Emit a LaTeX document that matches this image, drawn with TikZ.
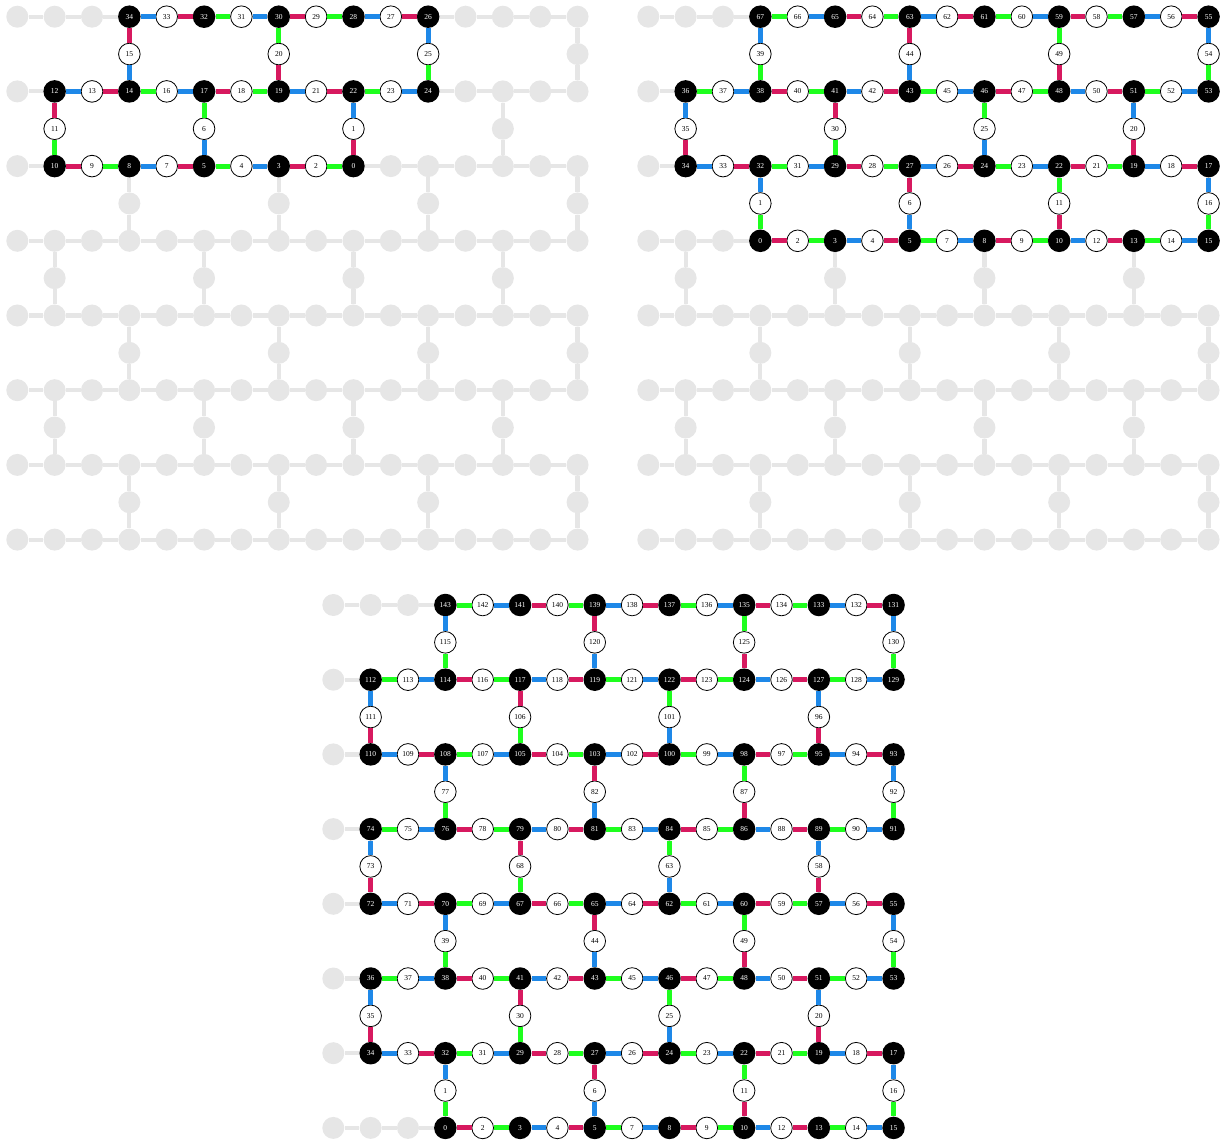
\documentclass[tikz,border=0pt]{standalone}
\usepackage{fontspec}
\setmainfont{Liberation Serif}
\usepackage{xcolor}
\usepackage{tikz}
\usetikzlibrary{calc}
\definecolor{ghostgray}{RGB}{230,230,230}
\definecolor{linkred}{RGB}{215,25,95}
\definecolor{linkblue}{RGB}{30,136,232}
\definecolor{linkgreen}{RGB}{30,255,30}
\tikzset{
  ghost/.style={circle,fill=ghostgray,minimum size=22pt,inner sep=0pt},
  ghostlink/.style={line width=4.2pt,ghostgray},
  ancilla/.style={circle,fill=black,text=white,minimum size=22.5pt,inner sep=0pt,font=\fontsize{7.5}{8}\selectfont},
  qubit/.style={circle,draw=black,line width=0.8pt,fill=white,minimum size=21.6pt,inner sep=0pt,font=\fontsize{7.5}{8}\selectfont},
  bluelink/.style={line width=5pt,linkblue},
  redlink/.style={line width=5pt,linkred},
  greenlink/.style={line width=5pt,linkgreen}
}
% grey heavy-hex: 8 rows of 16, bridges every fourth column
\newcommand{\ghostlattice}[1]{%
  \foreach \rw in {0,...,7}{
    \foreach \cl in {0,...,15}{
      \node[ghost] (#1-\rw-\cl) at (\cl,{2*\rw}) {};
    }
    \foreach \cl [remember=\cl as \pc (initially 0)] in {1,...,15}{
      \draw[ghostlink] (#1-\rw-\pc) -- (#1-\rw-\cl);
    }
  }
  \foreach \rw in {0,...,6}{
    \pgfmathtruncatemacro\nx{\rw+1}
    \foreach \k in {0,...,3}{
      \pgfmathtruncatemacro\cl{4*\k+3-2*mod(\rw,2)}
      \node[ghost] (#1-b\rw-\cl) at (\cl,{2*\rw+1}) {};
      \draw[ghostlink] (#1-\rw-\cl) -- (#1-b\rw-\cl);
      \draw[ghostlink] (#1-b\rw-\cl) -- (#1-\nx-\cl);
    }
  }
}
% one row of qubits: prefix, row, first column, colour offset, labels
\newcommand{\qrow}[5]{%
  \foreach \lab [count=\cl from #3, remember=\lab as \prev (initially none)] in {#5}{
    \ifodd\cl\relax \def\st{ancilla}\else \def\st{qubit}\fi
    \node[\st] (#1\lab) at (\cl,{2*#2}) {\lab};
    \ifnum\cl>#3\relax
      \pgfmathtruncatemacro\k{mod(\cl-#3-1+#4,3)}
      \ifcase\k \def\lk{bluelink}\or \def\lk{redlink}\or \def\lk{greenlink}\fi
      \draw[\lk] (#1\prev) -- (#1\lab);
    \fi
  }
}

\begin{document}
\begin{tikzpicture}[x=37.35pt,y=-37.35pt]
  \useasboundingbox (0pt,0pt) rectangle (1227pt,-1142pt);

  \begin{scope}[shift={(17.3pt,-16.7pt)}]
    \ghostlattice{tlg}
    \qrow{tl}{0}{3}{0}{34,33,32,31,30,29,28,27,26}
    \qrow{tl}{1}{1}{0}{12,13,14,16,17,18,19,21,22,23,24}
    \qrow{tl}{2}{1}{1}{10,9,8,7,5,4,3,2,0}
    \foreach \lab/\up/\dn/\su/\sd in {15/34/14/redlink/bluelink,20/30/19/greenlink/redlink,
      25/26/24/bluelink/greenlink,11/12/10/redlink/greenlink,6/17/5/greenlink/bluelink,1/22/0/bluelink/redlink}{
      \node[qubit] (tl\lab) at ($(tl\up)!0.5!(tl\dn)$) {\lab};
      \draw[\su] (tl\up) -- (tl\lab);
      \draw[\sd] (tl\lab) -- (tl\dn);
    }
  \end{scope}

  \begin{scope}[shift={(648.3pt,-16.7pt)}]
    \ghostlattice{trg}
    \qrow{tr}{0}{3}{2}{67,66,65,64,63,62,61,60,59,58,57,56,55}
    \qrow{tr}{1}{1}{2}{36,37,38,40,41,42,43,45,46,47,48,50,51,52,53}
    \qrow{tr}{2}{1}{0}{34,33,32,31,29,28,27,26,24,23,22,21,19,18,17}
    \qrow{tr}{3}{3}{1}{0,2,3,4,5,7,8,9,10,12,13,14,15}
    \foreach \lab/\up/\dn/\su/\sd in {39/67/38/bluelink/greenlink,44/63/43/redlink/bluelink,
      49/59/48/greenlink/redlink,54/55/53/bluelink/greenlink,35/36/34/bluelink/redlink,
      30/41/29/redlink/greenlink,25/46/24/greenlink/bluelink,20/51/19/bluelink/redlink,
      1/32/0/bluelink/greenlink,6/27/5/redlink/bluelink,11/22/10/greenlink/redlink,16/17/15/bluelink/greenlink}{
      \node[qubit] (tr\lab) at ($(tr\up)!0.5!(tr\dn)$) {\lab};
      \draw[\su] (tr\up) -- (tr\lab);
      \draw[\sd] (tr\lab) -- (tr\dn);
    }
  \end{scope}

  \begin{scope}[shift={(333.3pt,-605pt)}]
    \qrow{bt}{0}{3}{2}{143,142,141,140,139,138,137,136,135,134,133,132,131}
    \qrow{bt}{1}{1}{2}{112,113,114,116,117,118,119,121,122,123,124,126,127,128,129}
    \qrow{bt}{2}{1}{0}{110,109,108,107,105,104,103,102,100,99,98,97,95,94,93}
    \qrow{bt}{3}{1}{2}{74,75,76,78,79,80,81,83,84,85,86,88,89,90,91}
    \qrow{bt}{4}{1}{0}{72,71,70,69,67,66,65,64,62,61,60,59,57,56,55}
    \qrow{bt}{5}{1}{2}{36,37,38,40,41,42,43,45,46,47,48,50,51,52,53}
    \qrow{bt}{6}{1}{0}{34,33,32,31,29,28,27,26,24,23,22,21,19,18,17}
    \qrow{bt}{7}{3}{1}{0,2,3,4,5,7,8,9,10,12,13,14,15}
    \foreach \lab/\up/\dn/\su/\sd in {115/143/114/bluelink/greenlink,120/139/119/redlink/bluelink,
      125/135/124/greenlink/redlink,130/131/129/bluelink/greenlink,
      111/112/110/bluelink/redlink,106/117/105/redlink/greenlink,101/122/100/greenlink/bluelink,96/127/95/bluelink/redlink,
      77/108/76/bluelink/greenlink,82/103/81/redlink/bluelink,87/98/86/greenlink/redlink,92/93/91/bluelink/greenlink,
      73/74/72/bluelink/redlink,68/79/67/redlink/greenlink,63/84/62/greenlink/bluelink,58/89/57/bluelink/redlink,
      39/70/38/bluelink/greenlink,44/65/43/redlink/bluelink,49/60/48/greenlink/redlink,54/55/53/bluelink/greenlink,
      35/36/34/bluelink/redlink,30/41/29/redlink/greenlink,25/46/24/greenlink/bluelink,20/51/19/bluelink/redlink,
      1/32/0/bluelink/greenlink,6/27/5/redlink/bluelink,11/22/10/greenlink/redlink,16/17/15/bluelink/greenlink}{
      \node[qubit] (bt\lab) at ($(bt\up)!0.5!(bt\dn)$) {\lab};
      \draw[\su] (bt\up) -- (bt\lab);
      \draw[\sd] (bt\lab) -- (bt\dn);
    }
    \foreach \cl in {0,1,2}{
      \node[ghost] (btg0-\cl) at (\cl,0) {};
      \node[ghost] (btg7-\cl) at (\cl,14) {};
    }
    \draw[ghostlink] (btg0-0) -- (btg0-1);
    \draw[ghostlink] (btg0-1) -- (btg0-2);
    \draw[ghostlink] (btg0-2) -- (bt143);
    \draw[ghostlink] (btg7-0) -- (btg7-1);
    \draw[ghostlink] (btg7-1) -- (btg7-2);
    \draw[ghostlink] (btg7-2) -- (bt0);
    \foreach \rw/\lab in {1/112,2/110,3/74,4/72,5/36,6/34}{
      \node[ghost] (btg\rw-0) at (0,{2*\rw}) {};
      \draw[ghostlink] (btg\rw-0) -- (bt\lab);
    }
  \end{scope}
\end{tikzpicture}
\end{document}
